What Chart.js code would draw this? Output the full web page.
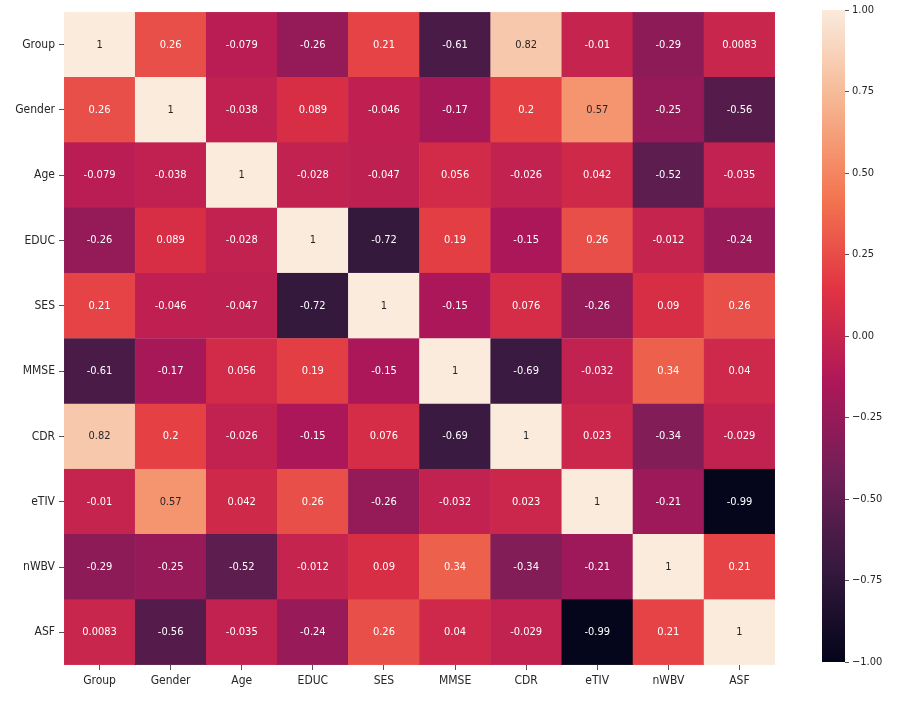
<!DOCTYPE html>
<html>
<head>
<meta charset="utf-8">
<script src="https://cdn.jsdelivr.net/npm/chart.js@4/dist/chart.umd.min.js"></script>
<style>
  body { margin: 0; background: #fff; }
  #wrap { position: relative; width: 900px; height: 704px; overflow: hidden; }
  #heat { position: absolute; left: 0; top: 0; }
  #bar { position: absolute; left: 800px; top: 0; }
</style>
</head>
<body>
<div id="wrap">
  <canvas id="heat" width="800" height="704"></canvas>
  <canvas id="bar" width="100" height="704"></canvas>
</div>
<script>
// variables (rows and columns in the same order)
const labels = ['Group', 'Gender', 'Age', 'EDUC', 'SES', 'MMSE', 'CDR', 'eTIV', 'nWBV', 'ASF'];

// correlation rows
const groupRow  = [1, 0.26, -0.079, -0.26, 0.21, -0.61, 0.82, -0.01, -0.29, 0.0083];
const genderRow = [0.26, 1, -0.038, 0.089, -0.046, -0.17, 0.2, 0.57, -0.25, -0.56];
const ageRow    = [-0.079, -0.038, 1, -0.028, -0.047, 0.056, -0.026, 0.042, -0.52, -0.035];
const educRow   = [-0.26, 0.089, -0.028, 1, -0.72, 0.19, -0.15, 0.26, -0.012, -0.24];
const sesRow    = [0.21, -0.046, -0.047, -0.72, 1, -0.15, 0.076, -0.26, 0.09, 0.26];
const mmseRow   = [-0.61, -0.17, 0.056, 0.19, -0.15, 1, -0.69, -0.032, 0.34, 0.04];
const cdrRow    = [0.82, 0.2, -0.026, -0.15, 0.076, -0.69, 1, 0.023, -0.34, -0.029];
const etivRow   = [-0.01, 0.57, 0.042, 0.26, -0.26, -0.032, 0.023, 1, -0.21, -0.99];
const nwbvRow   = [-0.29, -0.25, -0.52, -0.012, 0.09, 0.34, -0.34, -0.21, 1, 0.21];
const asfRow    = [0.0083, -0.56, -0.035, -0.24, 0.26, 0.04, -0.029, -0.99, 0.21, 1];

const rows = [groupRow, genderRow, ageRow, educRow, sesRow, mmseRow, cdrRow, etivRow, nwbvRow, asfRow];

// colour bar ticks
const barTicks = [-1, -0.75, -0.5, -0.25, 0, 0.25, 0.5, 0.75, 1];

// rocket colormap stops
const rocket = [
    [0.0, [3, 5, 26]],
    [0.143, [53, 25, 62]],
    [0.286, [112, 31, 87]],
    [0.429, [173, 23, 89]],
    [0.571, [225, 51, 66]],
    [0.714, [243, 118, 81]],
    [0.857, [246, 180, 143]],
    [1.0, [250, 235, 221]]
];

function rocketRgb(t) {
    t = Math.max(0, Math.min(1, t));
    for (let i = 1; i < rocket.length; i++) {
        if (t <= rocket[i][0]) {
            const [t0, c0] = rocket[i - 1];
            const [t1, c1] = rocket[i];
            const f = (t - t0) / (t1 - t0);
            return c0.map((c, k) => Math.round(c + (c1[k] - c) * f));
        }
    }
    return rocket[rocket.length - 1][1];
}

function colorFor(v) {
    const c = rocketRgb((v + 1) / 2);
    return `rgb(${c[0]}, ${c[1]}, ${c[2]})`;
}

function textColorFor(v) {
    const c = rocketRgb((v + 1) / 2).map(x => {
        x /= 255;
        return x <= 0.03928 ? x / 12.92 : Math.pow((x + 0.055) / 1.055, 2.4);
    });
    const lum = 0.2126 * c[0] + 0.7152 * c[1] + 0.0722 * c[2];
    return lum > 0.408 ? '#262626' : '#ffffff';
}

const tickFont = { family: "'DejaVu Sans Condensed', 'DejaVu Sans', sans-serif", size: 12 };

// stacked bars: dataset 0 is the bottom row (ASF)
const datasets = rows.slice().reverse().map((row, k) => ({
    label: labels[9 - k],
    data: row.map(() => 1),
    values: row,
    backgroundColor: row.map(colorFor),
    borderColor: row.map(colorFor),
    borderWidth: 0.5,
    borderSkipped: false,
    barPercentage: 1,
    categoryPercentage: 1
}));

const annotate = {
    id: 'annotate',
    afterDatasetsDraw(chart) {
        const ctx = chart.ctx;
        ctx.save();
        ctx.font = "11px 'DejaVu Sans Condensed', 'DejaVu Sans', sans-serif";
        ctx.textAlign = 'center';
        ctx.textBaseline = 'middle';
        chart.data.datasets.forEach((ds, i) => {
            chart.getDatasetMeta(i).data.forEach((el, j) => {
                const v = ds.values[j];
                ctx.fillStyle = textColorFor(v);
                ctx.fillText(String(v), el.x, (el.y + el.base) / 2);
            });
        });
        ctx.restore();
    }
};

new Chart(document.getElementById('heat').getContext('2d'), {
    type: 'bar',
    data: { labels: labels, datasets: datasets },
    options: {
        responsive: false,
        animation: false,
        layout: { padding: { top: 12, right: 25, left: 0, bottom: 0 } },
        plugins: { legend: { display: false }, tooltip: { enabled: false } },
        scales: {
            x: {
                stacked: true,
                border: { display: false },
                grid: { offset: false, drawOnChartArea: false, drawTicks: true, tickLength: 5, color: '#555' },
                ticks: { color: '#262626', font: tickFont, padding: 4, maxRotation: 0 },
                afterFit(scale) { scale.height = 39; }
            },
            y: {
                stacked: true,
                min: 0,
                max: 10,
                border: { display: false },
                grid: { drawOnChartArea: false, drawTicks: true, tickLength: 5, color: '#555' },
                afterBuildTicks(scale) {
                    scale.ticks = labels.map((_, i) => ({ value: i + 0.5 }));
                },
                ticks: {
                    color: '#262626',
                    font: tickFont,
                    padding: 4,
                    callback: v => labels[9 - Math.floor(v)]
                },
                afterFit(scale) { scale.width = 64; }
            }
        }
    },
    plugins: [annotate]
});

// colour bar
new Chart(document.getElementById('bar').getContext('2d'), {
    type: 'bar',
    data: {
        labels: [''],
        datasets: [{
            data: [[barTicks[0], barTicks[barTicks.length - 1]]],
            barPercentage: 1,
            categoryPercentage: 1,
            backgroundColor(context) {
                const chart = context.chart;
                const ys = chart.scales.y;
                if (!chart.chartArea || !ys) return null;
                const g = chart.ctx.createLinearGradient(0, ys.getPixelForValue(-1), 0, ys.getPixelForValue(1));
                rocket.forEach(([t, c]) => g.addColorStop(t, `rgb(${c[0]}, ${c[1]}, ${c[2]})`));
                return g;
            }
        }]
    },
    options: {
        responsive: false,
        animation: false,
        layout: { padding: { top: 10, left: 22, bottom: 42, right: 0 } },
        plugins: { legend: { display: false }, tooltip: { enabled: false } },
        scales: {
            x: { display: false },
            y: {
                position: 'right',
                min: -1,
                max: 1,
                border: { display: false },
                grid: { drawOnChartArea: false, drawTicks: true, tickLength: 4, color: '#555' },
                afterBuildTicks(scale) {
                    scale.ticks = barTicks.map(v => ({ value: v }));
                },
                ticks: {
                    color: '#262626',
                    font: { family: "'DejaVu Sans Condensed', 'DejaVu Sans', sans-serif", size: 11 },
                    padding: 3,
                    callback: v => v.toFixed(2).replace('-', '\u2212')
                },
                afterFit(scale) { scale.width = 55; }
            }
        }
    }
});
</script>
</body>
</html>
